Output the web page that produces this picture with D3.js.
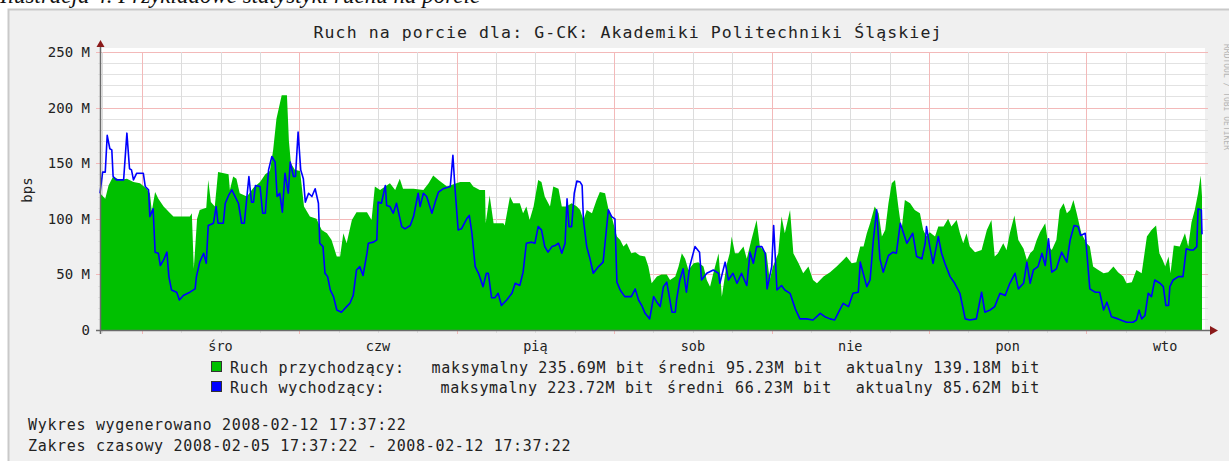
<!DOCTYPE html>
<html>
<head>
<meta charset="utf-8">
<script src="https://cdn.jsdelivr.net/npm/d3@7"></script>
<style>
  body { margin: 0; background: #fff; }
  svg { display: block; }
</style>
</head>
<body>
<div id="chart"></div>
<script>
// traffic data, hours since 2008-02-05 17:37:22 -> Mbit/s
const inHours = [0,0.8,1.3,2.0,3.0,4.1,5.1,6.1,7.1,7.6,7.9,8.4,8.9,9.7,10.7,11.2,13.7,14.0,14.3,14.8,15.2,16.2,16.5,16.9,17.5,18.0,19.6,19.8,20.3,20.8,21.3,22.4,23.4,24.4,25.2,25.9,26.4,26.9,27.7,28.5,28.8,29.1,29.7,30.5,31.1,32.0,33.0,33.8,34.6,35.3,36.1,36.6,37.1,37.6,38.4,39.1,40.7,41.4,41.9,42.7,44.2,45.0,45.7,46.2,47.8,49.3,50.1,50.8,51.6,52.9,53.9,54.9,56.4,56.9,57.9,
  58.7,58.8,59.4,60.0,61.5,61.7,62.5,63.0,64.0,64.5,65.0,65.5,66.1,66.8,67.3,67.8,68.6,69.1,69.9,70.4,71.1,71.9,72.7,73.2,73.7,74.2,75.0,75.7,76.2,77.0,77.5,78.0,78.8,79.3,79.8,80.3,81.0,81.6,82.3,83.1,83.6,84.1,84.9,85.6,86.4,86.9,87.7,88.2,88.7,89.2,89.7,90.5,91.2,92.0,92.5,93.0,93.5,94.3,94.8,95.5,96.0,96.3,96.8,97.3,98.1,98.6,99.3,100.1,100.6,101.6,102.1,102.6,103.4,103.9,104.4,105.2,105.7,106.5,107.2,108.0,108.7,109.3,110.3,111.3,112.3,113.3,113.8,114.6,115.3,115.9,116.4,116.9,
  117.4,118.1,118.7,119.2,119.7,120.2,120.7,121.2,121.7,122.2,122.7,123.5,124.2,125.0,125.5,126.0,126.5,127.3,127.8,128.6,129.3,129.8,130.6,131.1,131.6,132.1,132.6,133.4,134.4,135.2,135.9,136.4,136.9,137.7,138.2,138.7,139.4,140.0,140.8,141.3,141.8,142.3,142.8,143.3,144.1,144.6,145.1,145.8,146.3,146.9,147.4,147.9,148.4,148.9,149.6,150.4,150.9,151.4,152.2,153.0,153.7,154.5,155.2,156.0,156.5,157.3,158.0,158.8,159.6,160.3,161.0,161.5,162.0,162.4,162.9,163.2,163.7,164.6,165.4,165.9,166.4,166.9,167.4,167.8,168];
const inMbps = [123,118,130,138,135,136,133,132,127,123,107,124,118,111,105,102,102,105,55,100,108,110,135,115,111,142,140,126,138,136,123,120,128,133,140,143,162,190,211,211,170,150,144,143,111,102,100,90,87,81,66,66,87,78,99,106,106,99,129,126,132,126,136,127,127,126,132,139,135,129,131,133,133,129,126,
  126,96,121,96,96,94,120,114,114,105,111,99,111,135,133,120,111,129,127,111,111,114,111,108,99,108,105,117,124,123,109,102,84,81,75,78,69,70,67,66,57,42,48,50,50,45,48,57,69,64,54,60,61,57,45,39,51,69,30,58,69,84,69,69,75,64,81,99,75,69,45,57,69,102,87,108,69,60,51,57,45,42,48,52,57,63,66,60,61,75,75,87,
  96,111,105,84,90,114,132,135,111,90,117,114,108,105,90,84,88,84,93,93,100,93,99,87,78,87,75,70,72,90,99,66,69,78,72,87,103,81,73,63,69,72,81,88,96,75,72,81,108,114,105,108,117,105,87,78,75,57,54,51,52,57,52,48,42,43,54,51,84,90,94,69,63,57,66,51,76,75,87,75,97,108,123,139,120];

const outHours = [0,0.4,0.8,1.1,1.5,1.8,2.0,2.5,3.6,4.1,4.5,4.8,5.1,5.6,6.6,6.9,7.4,7.6,8.1,8.4,8.9,9.2,9.7,10.2,10.5,10.9,11.7,12.1,12.7,13.7,14.5,14.7,15.2,15.8,16.2,16.5,17.3,17.7,18.0,18.8,19.1,19.6,20.1,20.6,21.1,21.6,22.0,22.4,22.7,23.1,23.4,23.7,24.4,24.8,25.2,25.7,26.2,26.7,27.0,27.4,27.8,28.2,28.7,29.0,29.5,29.8,30.2,30.6,31.0,31.3,31.8,32.3,32.8,33.3,33.5,34.0,34.3,34.7,35.1,35.6,36.1,36.8,37.6,38.1,38.6,39.1,39.6,40.1,40.7,40.9,41.7,42.2,42.4,42.9,43.5,43.7,44.2,44.7,45.2,46.0,46.5,47.3,47.8,48.5,48.8,49.3,49.8,50.6,51.1,51.6,52.3,53.4,53.8,54.1,54.6,55.1,55.9,56.3,56.7,57.2,57.7,
  58.4,58.9,59.2,59.7,60.2,60.7,61.2,62.0,62.8,63.3,64.0,64.5,65.0,65.8,66.3,66.8,67.3,67.8,68.3,68.9,69.4,69.9,70.4,70.9,71.2,71.5,71.9,72.3,72.7,73.2,73.5,73.7,74.2,74.7,75.2,76.0,76.7,77.5,78.0,78.5,78.8,79.3,80.0,81.0,81.6,82.1,82.6,83.1,83.8,84.4,84.9,85.4,85.9,86.4,87.2,87.7,87.9,88.4,88.9,89.4,89.9,90.7,91.4,91.7,92.5,93.5,94.3,94.5,95.3,95.8,96.5,97.1,97.8,98.6,99.1,99.6,100.1,100.9,101.4,101.7,102.4,102.7,103.2,103.9,104.4,105.2,106.0,106.7,107.7,108.7,109.8,110.5,111.3,112.0,112.6,113.3,114.1,114.8,115.6,115.9,116.9,
  117.4,117.9,118.4,118.9,119.4,120.2,120.9,121.4,122.0,122.5,123.0,123.9,124.5,125.3,125.8,126.0,126.5,127.0,127.8,128.3,128.8,129.6,130.3,131.1,131.9,132.6,133.6,134.4,134.9,135.7,136.4,137.2,138.0,138.7,139.5,140.0,140.8,141.3,141.8,142.3,143.0,143.6,144.1,144.6,145.1,145.8,146.6,147.4,147.9,148.5,149.1,149.5,150.2,150.9,151.7,152.4,153.0,153.5,154.2,155.2,156.5,157.5,158.0,158.4,158.8,159.3,159.8,160.3,160.8,161.6,162.1,162.5,162.9,163.1,163.6,164.4,165.1,165.6,166.2,166.7,167.2,167.4,167.9,168];
const outMbps = [123,142,142,175,163,162,138,135,135,177,145,144,135,141,141,129,126,102,109,70,69,58,63,70,48,36,34,27,31,34,37,48,61,69,60,94,96,111,96,96,114,121,126,120,114,96,96,120,138,115,115,130,129,105,105,144,156,151,120,123,106,141,123,151,138,138,178,144,136,115,123,120,127,114,78,75,51,48,36,30,18,16,21,24,31,54,57,49,69,78,79,81,115,114,130,112,111,105,114,93,91,94,102,123,111,123,120,105,115,124,127,129,157,129,90,91,100,103,87,57,51,
  39,51,51,29,29,33,22,27,33,42,40,52,78,79,78,93,90,75,70,75,76,78,69,78,118,93,93,123,134,133,130,99,75,64,51,57,61,108,102,100,43,36,30,30,37,27,22,15,10,30,25,21,39,43,16,16,27,45,55,34,57,75,70,45,51,54,51,42,61,45,51,42,51,40,70,60,75,75,69,37,57,94,36,40,36,33,19,10,10,9,15,12,10,9,16,24,21,33,34,61,39,
  45,81,108,64,52,67,70,69,96,87,78,87,66,64,78,93,75,60,84,69,60,48,42,33,10,9,10,34,16,18,21,33,31,42,51,37,42,61,42,54,57,69,58,82,52,55,70,61,81,94,93,85,87,37,34,34,18,25,12,10,7,7,9,18,10,13,33,30,45,42,39,22,22,39,45,48,48,73,72,72,75,109,108,86];

const yTickValues = [0, 50, 100, 150, 200, 250];
const yTickLabels = ["0", "50 M", "100 M", "150 M", "200 M", "250 M"];
const dayLabels = ["śro", "czw", "pią", "sob", "nie", "pon", "wto"];

const seriesNames = ["Ruch przychodzący:", "Ruch wychodzący:"];
const seriesMax = ["maksymalny 235.69M bit", "maksymalny 223.72M bit"];
const seriesAvg = ["średni 95.23M bit", "średni 66.23M bit"];
const seriesCur = ["aktualny 139.18M bit", "aktualny 85.62M bit"];
const seriesColors = ["#00c000", "#0000ff"];

const title = "Ruch na porcie dla: G-CK: Akademiki Politechniki Śląskiej";
const footerLines = [
    "Wykres wygenerowano 2008-02-12 17:37:22",
    "Zakres czasowy 2008-02-05 17:37:22 - 2008-02-12 17:37:22"
];

const W = 1229, H = 461;
const plot = { left: 100, right: 1202, top: 52, bottom: 330 };
const mono = "'DejaVu Sans Mono', monospace";

const start = new Date(2008, 1, 5, 17, 37, 22);
const end = new Date(+start + 168 * 36e5);
const toDate = h => new Date(+start + h * 36e5);

const x = d3.scaleTime().domain([start, end]).range([plot.left, plot.right]);
const y = d3.scaleLinear().domain([0, 250]).range([plot.bottom, plot.top]);

const svg = d3.select("#chart").append("svg")
    .attr("width", W)
    .attr("height", H);

svg.append("rect").attr("width", W).attr("height", H).attr("fill", "#fff");

// bit of document caption, cut off above the picture
svg.append("text")
    .attr("x", 0).attr("y", 3)
    .attr("font-family", "'Liberation Serif', serif")
    .attr("font-style", "italic")
    .attr("font-size", 23)
    .attr("fill", "#111")
    .text("Ilustracja 4. Przykładowe statystyki ruchu na porcie");

// frame
svg.append("rect")
    .attr("x", 8.5).attr("y", 9.5)
    .attr("width", W + 20).attr("height", H + 20)
    .attr("fill", "#f0f0f0")
    .attr("stroke", "#c9c9c9")
    .attr("stroke-width", 2);

// canvas
svg.append("rect")
    .attr("x", plot.left).attr("y", plot.top - 4)
    .attr("width", plot.right - plot.left + 3)
    .attr("height", plot.bottom - plot.top + 4)
    .attr("fill", "#fff");

const grid = svg.append("g");

// horizontal grid
const minorY = d3.range(10, 251, 10).filter(v => v % 50 !== 0);
grid.selectAll(".hminor").data(minorY).enter().append("line")
    .attr("x1", plot.left - 2).attr("x2", plot.right + 6)
    .attr("y1", d => Math.round(y(d)) + 0.5).attr("y2", d => Math.round(y(d)) + 0.5)
    .attr("stroke", "#e2e2e2");
grid.selectAll(".hmajor").data(yTickValues.slice(1)).enter().append("line")
    .attr("x1", plot.left - 4).attr("x2", plot.right + 6)
    .attr("y1", d => Math.round(y(d)) + 0.5).attr("y2", d => Math.round(y(d)) + 0.5)
    .attr("stroke", "#f3b9b9");

// vertical grid
const days = d3.timeDay.range(start, end);
const sixHours = d3.timeHour.every(6).range(start, end).filter(d => d.getHours() !== 0);
grid.selectAll(".vminor").data(sixHours).enter().append("line")
    .attr("x1", d => Math.round(x(d)) + 0.5).attr("x2", d => Math.round(x(d)) + 0.5)
    .attr("y1", plot.top).attr("y2", plot.bottom + 3)
    .attr("stroke", "#dcdcdc");
grid.selectAll(".vmajor").data(days).enter().append("line")
    .attr("x1", d => Math.round(x(d)) + 0.5).attr("x2", d => Math.round(x(d)) + 0.5)
    .attr("y1", plot.top).attr("y2", plot.bottom + 4)
    .attr("stroke", "#f3b9b9");

// incoming traffic area
const inData = inHours.map((h, i) => [toDate(h), inMbps[i]]);
svg.append("path")
    .datum(inData)
    .attr("fill", seriesColors[0])
    .attr("d", d3.area()
        .x(d => x(d[0]))
        .y0(y(0))
        .y1(d => y(d[1])));

// outgoing traffic line
const outData = outHours.map((h, i) => [toDate(h), outMbps[i]]);
svg.append("path")
    .datum(outData)
    .attr("fill", "none")
    .attr("stroke", seriesColors[1])
    .attr("stroke-width", 1.6)
    .attr("stroke-linejoin", "round")
    .attr("d", d3.line()
        .x(d => x(d[0]))
        .y(d => y(d[1])));

// axes
svg.append("line")
    .attr("x1", plot.left - 4).attr("x2", plot.right + 8)
    .attr("y1", plot.bottom + 0.5).attr("y2", plot.bottom + 0.5)
    .attr("stroke", "#6b6b6b").attr("stroke-width", 1.5);
svg.append("line")
    .attr("x1", plot.left + 0.5).attr("x2", plot.left + 0.5)
    .attr("y1", plot.top - 6).attr("y2", plot.bottom + 4)
    .attr("stroke", "#6b6b6b").attr("stroke-width", 1.5);
svg.append("path")
    .attr("d", `M${plot.right + 8},${plot.bottom - 4} L${plot.right + 16},${plot.bottom + 0.5} L${plot.right + 8},${plot.bottom + 5} Z`)
    .attr("fill", "#8b1a1a");
svg.append("path")
    .attr("d", `M${plot.left - 3.5},${plot.top - 5} L${plot.left + 0.5},${plot.top - 12} L${plot.left + 4.5},${plot.top - 5} Z`)
    .attr("fill", "#8b1a1a");

// y tick labels
svg.selectAll(".ylab").data(yTickValues).enter().append("text")
    .attr("x", 90)
    .attr("y", d => y(d) + 5)
    .attr("text-anchor", "end")
    .attr("font-family", mono)
    .attr("font-size", 14)
    .attr("fill", "#222")
    .text((d, i) => yTickLabels[i]);

svg.append("text")
    .attr("transform", "translate(32,190) rotate(-90)")
    .attr("text-anchor", "middle")
    .attr("font-family", mono)
    .attr("font-size", 14)
    .attr("fill", "#222")
    .text("bps");

// day labels at noon
svg.selectAll(".xlab").data(days).enter().append("text")
    .attr("x", d => x(d3.timeHour.offset(d, 12)))
    .attr("y", 351)
    .attr("text-anchor", "middle")
    .attr("font-family", mono)
    .attr("font-size", 13.5)
    .attr("fill", "#222")
    .text((d, i) => dayLabels[i]);

// title
svg.append("text")
    .attr("x", 628).attr("y", 38)
    .attr("text-anchor", "middle")
    .attr("font-family", mono)
    .attr("font-size", 16.5)
    .attr("letter-spacing", 1.1)
    .attr("fill", "#222")
    .text(title);

// legend
const legendRows = [373, 393];
const textStyle = sel => sel
    .attr("font-family", mono)
    .attr("font-size", 15)
    .attr("letter-spacing", 0.67)
    .attr("fill", "#222");

seriesNames.forEach((name, i) => {
    const by = legendRows[i];
    svg.append("rect")
        .attr("x", 211.5).attr("y", by - 11.5)
        .attr("width", 10).attr("height", 10)
        .attr("fill", seriesColors[i])
        .attr("stroke", "#333");
    svg.append("text").attr("x", 230).attr("y", by).call(textStyle).text(name);
    svg.append("text").attr("x", 645 + i * 9).attr("y", by).attr("text-anchor", "end").call(textStyle).text(seriesMax[i]);
    svg.append("text").attr("x", 823 + i * 9).attr("y", by).attr("text-anchor", "end").call(textStyle).text(seriesAvg[i]);
    svg.append("text").attr("x", 1040).attr("y", by).attr("text-anchor", "end").call(textStyle).text(seriesCur[i]);
});

// footer
footerLines.forEach((line, i) => {
    svg.append("text").attr("x", 28).attr("y", 430 + i * 21).call(textStyle).text(line);
});

// rrdtool watermark on the right edge
svg.append("text")
    .attr("transform", "translate(1224,44) rotate(90)")
    .attr("font-family", mono)
    .attr("font-size", 8)
    .attr("fill", "#b5b5b5")
    .text("RRDTOOL / TOBI OETIKER");
</script>
</body>
</html>
